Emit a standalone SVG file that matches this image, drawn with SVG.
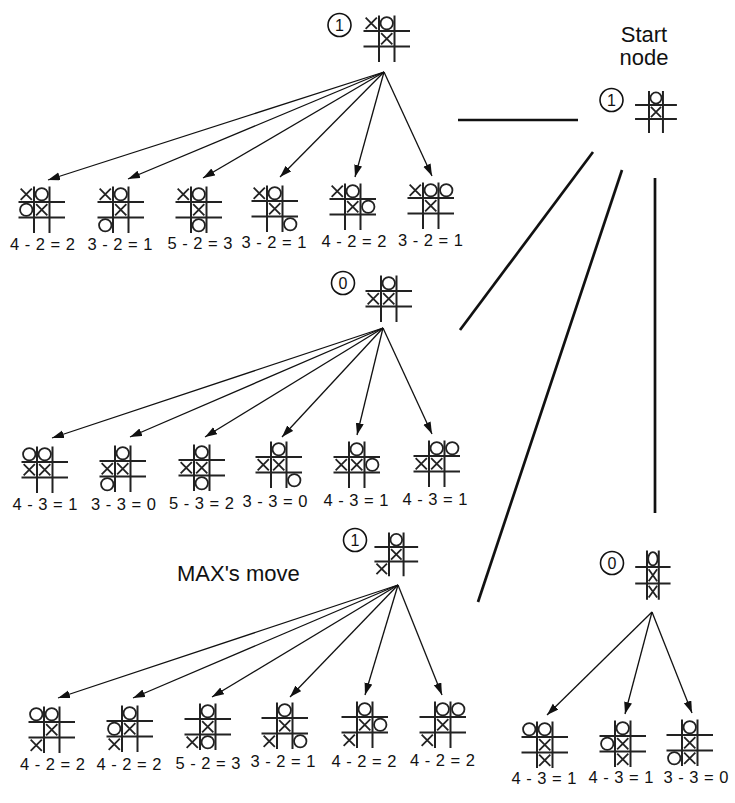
<svg xmlns="http://www.w3.org/2000/svg" xmlns:xlink="http://www.w3.org/1999/xlink" width="735" height="803" viewBox="0 0 735 803">
  <style>
    .grid{fill:none;stroke:#222;stroke-width:2;vector-effect:non-scaling-stroke}
    .mark{fill:none;stroke:#222;stroke-width:1.8;vector-effect:non-scaling-stroke}
    .val{fill:none;stroke:#111;stroke-width:1.6}
    .num{font-family:"Liberation Sans",Arial,sans-serif;font-size:16px;text-anchor:middle;fill:#111}
    .lbl{font-family:"Liberation Sans",Arial,sans-serif;font-size:16.5px;text-anchor:middle;word-spacing:1px;fill:#111}
    .title{font-family:"Liberation Sans",Arial,sans-serif;font-size:22px;fill:#111}
    .arrow{stroke:#111;stroke-width:1.3;fill:none;marker-end:url(#head)}
    .link{stroke:#111;stroke-width:2.7;fill:none}
  </style>
  <defs>
    <!-- tic-tac-toe grid: vertical lines at x=0,15.5; horizontal at y=0,15.5 -->
    <path id="grid" class="grid" d="M0,-15.5V31M15.5,-15.5V31M-15.5,0H31M-15.5,15.5H31"/>
    <path id="x" class="mark" d="M-5.6,-5.6L5.6,5.6M5.6,-5.6L-5.6,5.6"/>
    <circle id="o" class="mark" r="6.2"/>
    <marker id="head" markerUnits="userSpaceOnUse" markerWidth="13" markerHeight="9" refX="12" refY="4" orient="auto">
      <path d="M0,0L12,4L0,8z" fill="#111"/>
    </marker>
  </defs>

  <rect width="735" height="803" fill="#fff"/>

  <!-- captions -->
  <text class="title" x="644" y="42" text-anchor="middle">Start</text>
  <text class="title" x="644" y="65" text-anchor="middle">node</text>
  <text class="title" x="177" y="581">MAX's move</text>

  <!-- connectors -->
  <g id="connectors">
    <line class="link" x1="458" y1="120" x2="578" y2="120"/>
    <line class="link" x1="593" y1="152" x2="460" y2="330"/>
    <line class="link" x1="622" y1="170" x2="478" y2="602"/>
    <line class="link" x1="655" y1="178" x2="655" y2="513"/>

    <line class="arrow" x1="384" y1="72" x2="48" y2="180"/>
    <line class="arrow" x1="384" y1="72" x2="128" y2="179"/>
    <line class="arrow" x1="384" y1="72" x2="203" y2="178"/>
    <line class="arrow" x1="384" y1="72" x2="280" y2="177"/>
    <line class="arrow" x1="384" y1="72" x2="355" y2="177"/>
    <line class="arrow" x1="384" y1="72" x2="432" y2="176"/>

    <line class="arrow" x1="383" y1="328" x2="52" y2="438"/>
    <line class="arrow" x1="383" y1="328" x2="130" y2="437"/>
    <line class="arrow" x1="383" y1="328" x2="205" y2="437"/>
    <line class="arrow" x1="383" y1="328" x2="282" y2="437"/>
    <line class="arrow" x1="383" y1="328" x2="357" y2="435"/>
    <line class="arrow" x1="383" y1="328" x2="432" y2="434"/>

    <line class="arrow" x1="398" y1="585" x2="58" y2="698"/>
    <line class="arrow" x1="398" y1="585" x2="133" y2="698"/>
    <line class="arrow" x1="398" y1="585" x2="212" y2="697"/>
    <line class="arrow" x1="398" y1="585" x2="290" y2="697"/>
    <line class="arrow" x1="398" y1="585" x2="365" y2="695"/>
    <line class="arrow" x1="398" y1="585" x2="442" y2="695"/>

    <line class="arrow" x1="652" y1="612" x2="547" y2="715"/>
    <line class="arrow" x1="652" y1="612" x2="625" y2="714"/>
    <line class="arrow" x1="652" y1="612" x2="692" y2="713"/>
  </g>

  <!-- root of the first tree -->
  <g id="root1">
    <circle class="val" cx="339.5" cy="25" r="11.5"/>
    <text class="num" x="339.5" y="30.5">1</text>
    <g transform="translate(379,31)">
      <use xlink:href="#grid"/>
      <use xlink:href="#x" x="-7.75" y="-7.75"/><use xlink:href="#o" x="7.75" y="-7.75"/><use xlink:href="#x" x="7.75" y="7.75"/>
    </g>
  </g>

  <!-- start node -->
  <g id="start">
    <circle class="val" cx="611.5" cy="100" r="11.5"/>
    <text class="num" x="611.5" y="105.5">1</text>
    <g transform="translate(649,105) scale(0.9)">
      <use xlink:href="#grid"/>
      <use xlink:href="#o" x="7.75" y="-7.75"/><use xlink:href="#x" x="7.75" y="7.75"/>
    </g>
  </g>

  <!-- first tree children -->
  <g id="a1">
    <g transform="translate(34,202)"><use xlink:href="#grid"/>
      <use xlink:href="#x" x="-7.75" y="-7.75"/><use xlink:href="#o" x="7.75" y="-7.75"/><use xlink:href="#o" x="-7.75" y="7.75"/><use xlink:href="#x" x="7.75" y="7.75"/></g>
    <text class="lbl" x="42.5" y="250">4 - 2 = 2</text>
  </g>
  <g id="a2">
    <g transform="translate(113,202)"><use xlink:href="#grid"/>
      <use xlink:href="#x" x="-7.75" y="-7.75"/><use xlink:href="#o" x="7.75" y="-7.75"/><use xlink:href="#x" x="7.75" y="7.75"/><use xlink:href="#o" x="-7.75" y="23.25"/></g>
    <text class="lbl" x="120" y="250">3 - 2 = 1</text>
  </g>
  <g id="a3">
    <g transform="translate(191,202)"><use xlink:href="#grid"/>
      <use xlink:href="#x" x="-7.75" y="-7.75"/><use xlink:href="#o" x="7.75" y="-7.75"/><use xlink:href="#x" x="7.75" y="7.75"/><use xlink:href="#o" x="7.75" y="23.25"/></g>
    <text class="lbl" x="200" y="249">5 - 2 = 3</text>
  </g>
  <g id="a4">
    <g transform="translate(267,201)"><use xlink:href="#grid"/>
      <use xlink:href="#x" x="-7.75" y="-7.75"/><use xlink:href="#o" x="7.75" y="-7.75"/><use xlink:href="#x" x="7.75" y="7.75"/><use xlink:href="#o" x="23.25" y="23.25"/></g>
    <text class="lbl" x="274" y="248">3 - 2 = 1</text>
  </g>
  <g id="a5">
    <g transform="translate(345,199)"><use xlink:href="#grid"/>
      <use xlink:href="#x" x="-7.75" y="-7.75"/><use xlink:href="#o" x="7.75" y="-7.75"/><use xlink:href="#x" x="7.75" y="7.75"/><use xlink:href="#o" x="23.25" y="7.75"/></g>
    <text class="lbl" x="354" y="247">4 - 2 = 2</text>
  </g>
  <g id="a6">
    <g transform="translate(423,198)"><use xlink:href="#grid"/>
      <use xlink:href="#x" x="-7.75" y="-7.75"/><use xlink:href="#o" x="7.75" y="-7.75"/><use xlink:href="#o" x="23.25" y="-7.75"/><use xlink:href="#x" x="7.75" y="7.75"/></g>
    <text class="lbl" x="430.5" y="246">3 - 2 = 1</text>
  </g>

  <!-- root of the second tree -->
  <g id="root2">
    <circle class="val" cx="343" cy="283" r="11.5"/>
    <text class="num" x="343" y="288.5">0</text>
    <g transform="translate(381,291)">
      <use xlink:href="#grid"/>
      <use xlink:href="#o" x="7.75" y="-7.75"/><use xlink:href="#x" x="-7.75" y="7.75"/><use xlink:href="#x" x="7.75" y="7.75"/>
    </g>
  </g>

  <!-- second tree children -->
  <g id="b1">
    <g transform="translate(37,462)"><use xlink:href="#grid"/>
      <use xlink:href="#o" x="-7.75" y="-7.75"/><use xlink:href="#o" x="7.75" y="-7.75"/><use xlink:href="#x" x="-7.75" y="7.75"/><use xlink:href="#x" x="7.75" y="7.75"/></g>
    <text class="lbl" x="45" y="510">4 - 3 = 1</text>
  </g>
  <g id="b2">
    <g transform="translate(115,461)"><use xlink:href="#grid"/>
      <use xlink:href="#o" x="7.75" y="-7.75"/><use xlink:href="#x" x="-7.75" y="7.75"/><use xlink:href="#x" x="7.75" y="7.75"/><use xlink:href="#o" x="-7.75" y="23.25"/></g>
    <text class="lbl" x="123.5" y="510">3 - 3 = 0</text>
  </g>
  <g id="b3">
    <g transform="translate(194,460)"><use xlink:href="#grid"/>
      <use xlink:href="#o" x="7.75" y="-7.75"/><use xlink:href="#x" x="-7.75" y="7.75"/><use xlink:href="#x" x="7.75" y="7.75"/><use xlink:href="#o" x="7.75" y="23.25"/></g>
    <text class="lbl" x="201.5" y="509">5 - 3 = 2</text>
  </g>
  <g id="b4">
    <g transform="translate(271,457)"><use xlink:href="#grid"/>
      <use xlink:href="#o" x="7.75" y="-7.75"/><use xlink:href="#x" x="-7.75" y="7.75"/><use xlink:href="#x" x="7.75" y="7.75"/><use xlink:href="#o" x="23.25" y="23.25"/></g>
    <text class="lbl" x="275" y="507">3 - 3 = 0</text>
  </g>
  <g id="b5">
    <g transform="translate(349,457)"><use xlink:href="#grid"/>
      <use xlink:href="#o" x="7.75" y="-7.75"/><use xlink:href="#x" x="-7.75" y="7.75"/><use xlink:href="#x" x="7.75" y="7.75"/><use xlink:href="#o" x="23.25" y="7.75"/></g>
    <text class="lbl" x="356" y="506">4 - 3 = 1</text>
  </g>
  <g id="b6">
    <g transform="translate(429,456)"><use xlink:href="#grid"/>
      <use xlink:href="#o" x="7.75" y="-7.75"/><use xlink:href="#o" x="23.25" y="-7.75"/><use xlink:href="#x" x="-7.75" y="7.75"/><use xlink:href="#x" x="7.75" y="7.75"/></g>
    <text class="lbl" x="435" y="505">4 - 3 = 1</text>
  </g>

  <!-- root of the third tree -->
  <g id="root3">
    <circle class="val" cx="355" cy="540" r="11.5"/>
    <text class="num" x="355" y="545.5">1</text>
    <g transform="translate(389,547) scale(0.94)">
      <use xlink:href="#grid"/>
      <use xlink:href="#o" x="7.75" y="-7.75"/><use xlink:href="#x" x="7.75" y="7.75"/><use xlink:href="#x" x="-7.75" y="23.25"/>
    </g>
  </g>

  <!-- third tree children -->
  <g id="c1">
    <g transform="translate(44,722)"><use xlink:href="#grid"/>
      <use xlink:href="#o" x="-7.75" y="-7.75"/><use xlink:href="#o" x="7.75" y="-7.75"/><use xlink:href="#x" x="7.75" y="7.75"/><use xlink:href="#x" x="-7.75" y="23.25"/></g>
    <text class="lbl" x="52.5" y="770">4 - 2 = 2</text>
  </g>
  <g id="c2">
    <g transform="translate(122,721)"><use xlink:href="#grid"/>
      <use xlink:href="#o" x="7.75" y="-7.75"/><use xlink:href="#o" x="-7.75" y="7.75"/><use xlink:href="#x" x="7.75" y="7.75"/><use xlink:href="#x" x="-7.75" y="23.25"/></g>
    <text class="lbl" x="129" y="770">4 - 2 = 2</text>
  </g>
  <g id="c3">
    <g transform="translate(200,719)"><use xlink:href="#grid"/>
      <use xlink:href="#o" x="7.75" y="-7.75"/><use xlink:href="#x" x="7.75" y="7.75"/><use xlink:href="#x" x="-7.75" y="23.25"/><use xlink:href="#o" x="7.75" y="23.25"/></g>
    <text class="lbl" x="208" y="769">5 - 2 = 3</text>
  </g>
  <g id="c4">
    <g transform="translate(277,718)"><use xlink:href="#grid"/>
      <use xlink:href="#o" x="7.75" y="-7.75"/><use xlink:href="#x" x="7.75" y="7.75"/><use xlink:href="#x" x="-7.75" y="23.25"/><use xlink:href="#o" x="23.25" y="23.25"/></g>
    <text class="lbl" x="283" y="767">3 - 2 = 1</text>
  </g>
  <g id="c5">
    <g transform="translate(357,717)"><use xlink:href="#grid"/>
      <use xlink:href="#o" x="7.75" y="-7.75"/><use xlink:href="#x" x="7.75" y="7.75"/><use xlink:href="#o" x="23.25" y="7.75"/><use xlink:href="#x" x="-7.75" y="23.25"/></g>
    <text class="lbl" x="364" y="767">4 - 2 = 2</text>
  </g>
  <g id="c6">
    <g transform="translate(435,717)"><use xlink:href="#grid"/>
      <use xlink:href="#o" x="7.75" y="-7.75"/><use xlink:href="#o" x="23.25" y="-7.75"/><use xlink:href="#x" x="7.75" y="7.75"/><use xlink:href="#x" x="-7.75" y="23.25"/></g>
    <text class="lbl" x="442.5" y="766">4 - 2 = 2</text>
  </g>

  <!-- root of the right-hand tree -->
  <g id="root4">
    <circle class="val" cx="612" cy="563" r="11.5"/>
    <text class="num" x="612" y="568.5">0</text>
    <g transform="translate(647,567) scale(0.76,1.06)">
      <use xlink:href="#grid"/>
      <use xlink:href="#o" x="7.75" y="-7.75"/><use xlink:href="#x" x="7.75" y="7.75"/><use xlink:href="#x" x="7.75" y="23.25"/>
    </g>
  </g>

  <!-- right-hand tree children -->
  <g id="d1">
    <g transform="translate(537,737)"><use xlink:href="#grid"/>
      <use xlink:href="#o" x="-7.75" y="-7.75"/><use xlink:href="#o" x="7.75" y="-7.75"/><use xlink:href="#x" x="7.75" y="7.75"/><use xlink:href="#x" x="7.75" y="23.25"/></g>
    <text class="lbl" x="544" y="784">4 - 3 = 1</text>
  </g>
  <g id="d2">
    <g transform="translate(615,736)"><use xlink:href="#grid"/>
      <use xlink:href="#o" x="7.75" y="-7.75"/><use xlink:href="#o" x="-7.75" y="7.75"/><use xlink:href="#x" x="7.75" y="7.75"/><use xlink:href="#x" x="7.75" y="23.25"/></g>
    <text class="lbl" x="621" y="783">4 - 3 = 1</text>
  </g>
  <g id="d3">
    <g transform="translate(682,735)"><use xlink:href="#grid"/>
      <use xlink:href="#o" x="7.75" y="-7.75"/><use xlink:href="#x" x="7.75" y="7.75"/><use xlink:href="#o" x="-7.75" y="23.25"/><use xlink:href="#x" x="7.75" y="23.25"/></g>
    <text class="lbl" x="696" y="783">3 - 3 = 0</text>
  </g>
</svg>
